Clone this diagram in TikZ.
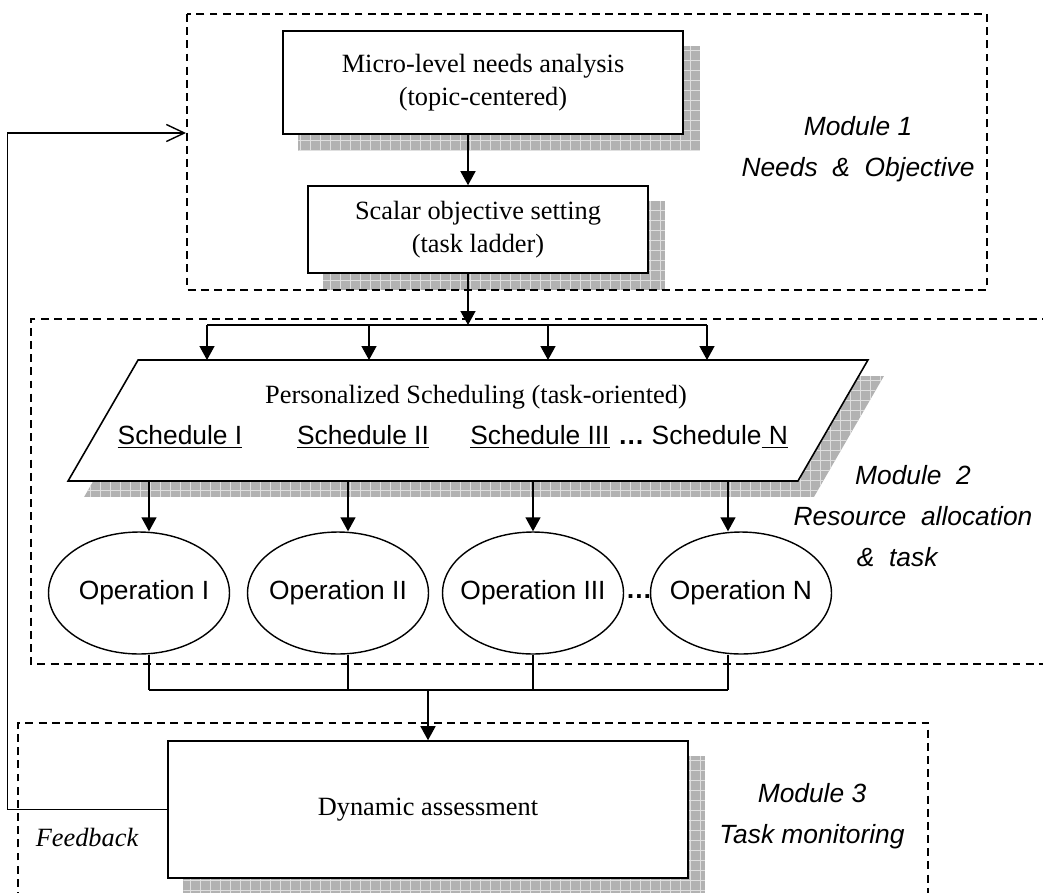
\documentclass[tikz,border=0pt]{standalone}
\usepackage{fontspec}
\setmainfont{Liberation Serif}
\setsansfont{Liberation Sans}
\usetikzlibrary{arrows.meta,backgrounds,shapes.geometric}

\begin{document}
\begin{tikzpicture}[x=0.02cm,y=-0.02cm,
  box/.style={draw,line width=0.9pt,fill=white,align=center,inner sep=0pt,
    font=\fontsize{15}{19}\selectfont},
  oper/.style={draw,ellipse,line width=0.8pt,fill=white,inner sep=0pt,
    minimum width=3.62cm,minimum height=2.44cm,font=\sffamily\fontsize{15}{18}\selectfont},
  schedtext/.style={font=\sffamily\fontsize{15}{18}\selectfont},
  modlabel/.style={align=center,font=\sffamily\itshape\fontsize{15}{23.5}\selectfont},
  module/.style={dash pattern=on 4.5pt off 3pt,line width=0.6pt},
  arr/.style={-{Triangle[length=0.28cm,width=0.3cm]},line width=0.8pt},
  shadowfill/.style={fill=gray!60,path picture={
    \draw[gray!25,line width=0.3pt,step=0.2cm] (path picture bounding box.south west)
      grid (path picture bounding box.north east);}}]
\useasboundingbox (0,0) rectangle (1043,892);

% module frames
\draw[module] (187,14) rectangle (987,290);
\draw[module] (1050,319) -- (31,319) -- (31,664) -- (1050,664);
\draw[module] (18,900) -- (18,723) -- (928,723) -- (928,900);

% module 1
\node[box,minimum width=8cm,minimum height=2.06cm] (micro) at (483,82.5)
  {Micro-level needs analysis\\(topic-centered)};
\node[box,minimum width=6.8cm,minimum height=1.74cm] (scalar) at (478,229.5)
  {Scalar objective setting\\(task ladder)};
\coordinate (spine) at (468,0);

% module 2
\node[minimum width=14.6cm,minimum height=2.42cm,inner sep=0pt,outer sep=0pt] (sched) at (468,420.5) {};
\draw[line width=0.9pt,fill=white] ([xshift=0.7cm]sched.north west) -- ([xshift=0.7cm]sched.north east)
  -- ([xshift=-0.7cm]sched.south east) -- ([xshift=-0.7cm]sched.south west) -- cycle;
\node[font=\fontsize{15}{18}\selectfont] (title) at (476,397) {Personalized Scheduling (task-oriented)};
\node[schedtext] (s1) at (180,437) {\underline{Schedule I}};
\node[schedtext] (s2) at (363,437) {\underline{Schedule II}};
\node[schedtext] (s3) at (540,437) {\underline{Schedule III}};
\node[schedtext] (s4) at (703,437) {\textbf{…} Schedule\underline{\ N}};

\node[oper] (op1) at (139,593) {\makebox[0pt]{\hspace{0.2cm}Operation I}};
\node[oper] (op2) at (338,593) {\makebox[0pt]{Operation II}};
\node[oper] (op3) at (533,593) {\makebox[0pt]{Operation III}};
\node[oper] (op4) at (741,593) {\makebox[0pt]{Operation N}};
\node[font=\sffamily\bfseries\fontsize{15}{18}\selectfont,inner sep=0pt] (dots) at (639,597) {…};

% module 3
\node[box,minimum width=10.4cm,minimum height=2.74cm] (dyn) at (428,809.5) {Dynamic assessment};
\node[font=\itshape\fontsize{15}{18}\selectfont] (fbtext) at (87,837) {Feedback};

% labels
\node[modlabel] (lab1) at (858,149) {Module 1\\Needs \ \& \ Objective};
\node[modlabel] (lab2) at (913,516) {Module \ 2\\Resource \ allocation\\\hspace*{-1.2em}\& \ task};
\node[modlabel] (lab3) at (812,816) {Module 3\\Task monitoring};

% shadows
\begin{scope}[on background layer]
  \foreach \n in {micro,scalar,dyn}
    \path[shadowfill] ([shift={(16,16)}]\n.south west) rectangle ([shift={(16,16)}]\n.north east);
  \path[shadowfill] ([shift={(51,16)}]sched.north west) -- ([shift={(51,16)}]sched.north east)
    -- ([shift={(-19,16)}]sched.south east) -- ([shift={(-19,16)}]sched.south west) -- cycle;
\end{scope}

% connectors
\draw[arr] (micro.south -| spine) -- (scalar.north -| spine);
\coordinate (br1) at (207,325);
\coordinate (br2) at (369,325);
\coordinate (br3) at (548,325);
\coordinate (br4) at (707,325);
\draw[arr] (scalar.south -| spine) -- (spine |- br1);
\draw[line width=0.8pt] (br1) -- (br4);
\foreach \i in {1,...,4}
  \draw[arr] (br\i) -- (br\i |- sched.north);

\foreach \i/\d in {1/10,2/10,3/0,4/-13} {
  \coordinate (t\i) at ([shift={(\d,0)}]op\i.north);
  \coordinate (u\i) at ([shift={(\d,0)}]op\i.south);
  \draw[arr] (t\i |- sched.south) -- (t\i);
}
\coordinate (join) at (428,690);
\foreach \i in {1,...,4}
  \draw[line width=0.8pt] (u\i) -- (u\i |- join);
\draw[line width=0.8pt] (u1 |- join) -- (u4 |- join);
\draw[arr] (join) -- (dyn.north);

% feedback
\coordinate (fb) at (186,133);
\draw[line width=0.8pt,-{Straight Barb[length=0.36cm,width=0.34cm]}] (dyn.west) -- ++(-160,0) |- (fb);
\end{tikzpicture}
\end{document}
